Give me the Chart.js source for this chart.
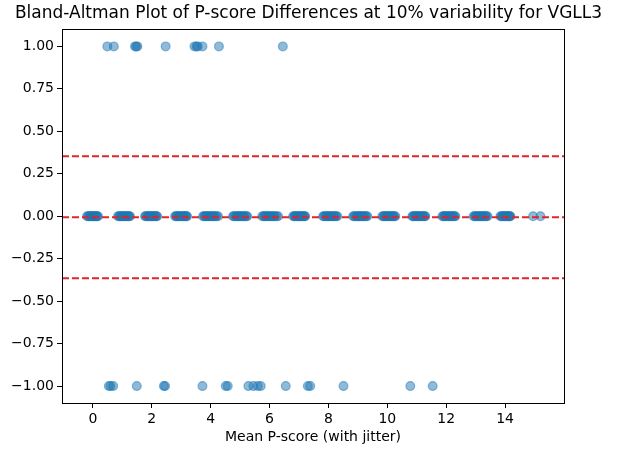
<!DOCTYPE html>
<html>
<head>
<meta charset="utf-8">
<script src="https://cdn.jsdelivr.net/npm/chart.js@4.4.0/dist/chart.umd.min.js"></script>
<style>
  html, body { margin: 0; padding: 0; background: #fff; }
</style>
</head>
<body>
<canvas id="chartBA" width="617" height="450"></canvas>
<script>
// Puntos con diferencia +1
const xPlusOne = [0.49, 0.71, 1.43, 1.47, 1.51, 2.47, 3.45, 3.52, 3.56, 3.72, 4.28, 6.45];

// Puntos con diferencia -1
const xMinusOne = [0.54, 0.60, 0.69, 1.49, 2.41, 2.45, 3.72, 4.51, 4.58, 5.28, 5.45,
    5.60, 5.70, 6.55, 7.30, 7.38, 8.51, 10.78, 11.54];

// Puntos con diferencia 0 (agrupados por P-score con jitter)
const xZero = [
    -0.20, -0.16, -0.13, -0.11, -0.07, -0.04, -0.01, 0.01, 0.04, 0.06, 0.10, 0.12, 0.15, 0.17,
    0.85, 0.89, 0.92, 0.95, 0.98, 1.02, 1.04, 1.08, 1.12, 1.14, 1.17, 1.21, 1.23, 1.26,
    1.77, 1.80, 1.85, 1.87, 1.90, 1.94, 1.98, 2.00, 2.03, 2.06, 2.10, 2.12, 2.16, 2.18,
    2.79, 2.83, 2.85, 2.89, 2.92, 2.96, 2.98, 3.02, 3.06, 3.08, 3.11, 3.15, 3.17, 3.20,
    3.74, 3.78, 3.81, 3.86, 3.89, 3.93, 3.96, 4.00, 4.05, 4.08, 4.11, 4.16, 4.20, 4.25,
    4.76, 4.79, 4.84, 4.88, 4.91, 4.94, 4.98, 5.01, 5.05, 5.10, 5.13, 5.16, 5.21, 5.24,
    5.75, 5.80, 5.83, 5.86, 5.91, 5.95, 5.98, 6.03, 6.06, 6.11, 6.15, 6.18, 6.24, 6.29,
    6.80, 6.84, 6.86, 6.90, 6.93, 6.97, 7.01, 7.03, 7.07, 7.10, 7.12, 7.16, 7.19, 7.21,
    7.82, 7.85, 7.90, 7.94, 7.97, 8.01, 8.04, 8.07, 8.12, 8.15, 8.18, 8.23, 8.26, 8.30,
    8.84, 8.87, 8.92, 8.96, 8.99, 9.03, 9.05, 9.09, 9.14, 9.17, 9.20, 9.25, 9.28, 9.32,
    9.83, 9.87, 9.90, 9.92, 9.97, 10.01, 10.03, 10.07, 10.10, 10.14, 10.18, 10.20, 10.24, 10.27,
    10.85, 10.88, 10.91, 10.95, 10.99, 11.01, 11.06, 11.09, 11.12, 11.16, 11.19, 11.23, 11.27, 11.29,
    11.87, 11.91, 11.94, 11.96, 12.01, 12.05, 12.08, 12.11, 12.14, 12.18, 12.22, 12.24, 12.28, 12.31,
    12.93, 12.97, 13.00, 13.03, 13.08, 13.12, 13.15, 13.19, 13.22, 13.25, 13.30, 13.33, 13.37, 13.40,
    13.84, 13.87, 13.91, 13.93, 13.96, 14.00, 14.02, 14.05, 14.09, 14.11, 14.14, 14.16, 14.18,
    14.95, 15.20
];

// Media y límites de concordancia
const meanDiff = -0.006;
const upperLimit = 0.353;
const lowerLimit = -0.365;

// Ejes
const xMin = -1.05, xMax = 16.0;
const yMin = -1.1, yMax = 1.1;
const xTickValues = [0, 2, 4, 6, 8, 10, 12, 14];
const xTickLabels = ['0', '2', '4', '6', '8', '10', '12', '14'];
const yTickValues = [-1, -0.75, -0.5, -0.25, 0, 0.25, 0.5, 0.75, 1];
const yTickLabels = ['\u22121.00', '\u22120.75', '\u22120.50', '\u22120.25', '0.00', '0.25', '0.50', '0.75', '1.00'];

const puntoColor = 'rgba(31, 119, 180, 0.5)';
const lineaColor = '#e0262a';
const fuente = 'DejaVu Sans';

// Armar puntos del scatter
const puntos = [
    ...xPlusOne.map(x => ({ x: x, y: 1 })),
    ...xZero.map(x => ({ x: x, y: 0 })),
    ...xMinusOne.map(x => ({ x: x, y: -1 }))
];

function lineaHorizontal(valor) {
    return {
        type: 'line',
        data: [{ x: xMin, y: valor }, { x: xMax, y: valor }],
        borderColor: lineaColor,
        borderWidth: 2,
        borderDash: [7, 3],
        pointRadius: 0,
        fill: false,
        order: 0
    };
}

// Marco de los ejes (spines)
const marco = {
    id: 'marco',
    afterDraw(chart) {
        const { ctx, chartArea: a } = chart;
        ctx.save();
        ctx.strokeStyle = '#000';
        ctx.lineWidth = 1;
        ctx.strokeRect(Math.round(a.left) + 0.5, Math.round(a.top) + 0.5,
            Math.round(a.right - a.left), Math.round(a.bottom - a.top));
        ctx.restore();
    }
};

const ctx = document.getElementById('chartBA').getContext('2d');
new Chart(ctx, {
    type: 'scatter',
    data: {
        datasets: [
            {
                data: puntos,
                backgroundColor: puntoColor,
                borderColor: puntoColor,
                borderWidth: 1.2,
                pointRadius: 4.4,
                order: 1
            },
            lineaHorizontal(meanDiff),
            lineaHorizontal(upperLimit),
            lineaHorizontal(lowerLimit)
        ]
    },
    options: {
        responsive: false,
        animation: false,
        layout: { padding: 0 },
        plugins: {
            legend: { display: false },
            tooltip: { enabled: false },
            title: {
                display: true,
                text: 'Bland-Altman Plot of P-score Differences at 10% variability for VGLL3',
                color: '#000',
                font: { family: fuente, size: 17, weight: 'normal' },
                padding: { top: 3, bottom: 6 }
            }
        },
        scales: {
            x: {
                type: 'linear',
                min: xMin,
                max: xMax,
                afterBuildTicks: s => { s.ticks = xTickValues.map(v => ({ value: v })); },
                afterFit: s => { s.height = 47; },
                ticks: {
                    callback: v => xTickLabels[xTickValues.indexOf(v)],
                    color: '#000',
                    font: { family: fuente, size: 14 },
                    maxRotation: 0,
                    autoSkip: false,
                    padding: 3
                },
                grid: { drawOnChartArea: false, drawTicks: true, tickLength: 5, color: '#000' },
                border: { display: false },
                title: {
                    display: true,
                    text: 'Mean P-score (with jitter)',
                    color: '#000',
                    font: { family: fuente, size: 14 },
                    padding: { top: 0, bottom: 4 }
                }
            },
            y: {
                type: 'linear',
                min: yMin,
                max: yMax,
                afterBuildTicks: s => { s.ticks = yTickValues.map(v => ({ value: v })); },
                afterFit: s => { s.width = 62; },
                ticks: {
                    callback: v => yTickLabels[yTickValues.indexOf(v)],
                    color: '#000',
                    font: { family: fuente, size: 14 },
                    autoSkip: false,
                    padding: 3
                },
                grid: { drawOnChartArea: false, drawTicks: true, tickLength: 5, color: '#000' },
                border: { display: false }
            },
            yDerecha: {
                position: 'right',
                afterFit: s => { s.width = 53; },
                ticks: { display: false },
                grid: { display: false },
                border: { display: false }
            }
        }
    },
    plugins: [marco]
});
</script>
</body>
</html>
